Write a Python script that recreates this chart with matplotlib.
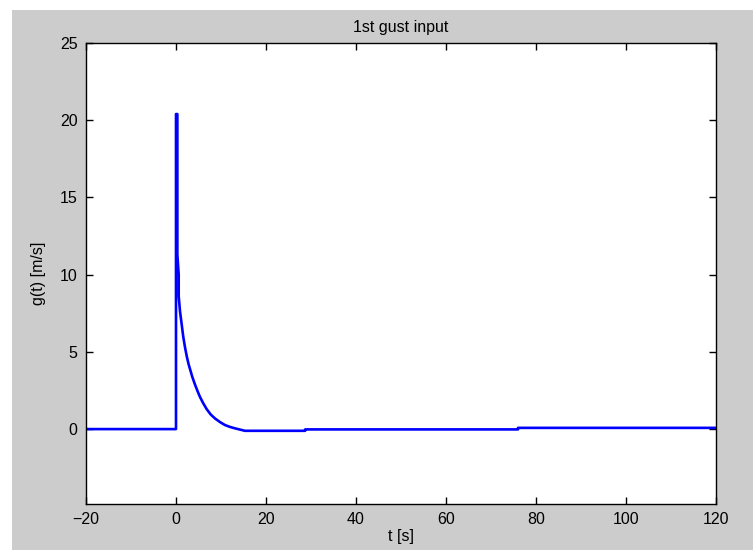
import numpy as np
import matplotlib.pyplot as plt
from matplotlib.patches import Rectangle

# gust signal (repeated t gives the vertical jumps)
t = [-20, 0, 0, 0.3, 0.3, 0.6, 0.6, 0.9, 1.3, 1.6, 2.0, 2.4, 2.8, 3.1, 3.6, 4.2,
     4.8, 5.3, 6.0, 6.8, 7.7, 8.7, 9.8, 10.9, 12.0, 13.1, 14.2, 15.3,
     28.7, 28.7, 76, 76, 120]
g = [0, 0, 20.4, 20.4, 11.3, 10.0, 8.6, 7.6, 6.7, 6.0, 5.3, 4.7, 4.2, 3.9, 3.4, 2.9,
     2.45, 2.1, 1.7, 1.3, 0.95, 0.68, 0.45, 0.26, 0.14, 0.05, -0.03, -0.11,
     -0.11, -0.02, -0.02, 0.08, 0.08]

xticks = [-20, 0, 20, 40, 60, 80, 100, 120]
yticks = [0, 5, 10, 15, 20, 25]

plt.rcParams['font.family'] = ['Liberation Sans', 'DejaVu Sans']

fig = plt.figure(figsize=(7.53, 5.50), dpi=100, facecolor='#cccccc')
# white margin strips at top and left of the screenshot
fig.patches.append(Rectangle((0, 0), 12 / 753, 1, transform=fig.transFigure,
                             facecolor='white', edgecolor='none', zorder=-1))
fig.patches.append(Rectangle((0, 1 - 10 / 550), 1, 10 / 550, transform=fig.transFigure,
                             facecolor='white', edgecolor='none', zorder=-1))

ax = fig.add_axes([86 / 753, 46 / 550, 630 / 753, 461 / 550])
ax.set_facecolor('white')
ax.plot(t, g, color='#0000ff', lw=1.9)

ax.set_xlim(-20, 120)
ax.set_ylim(-4.85, 25)
ax.set_xticks(xticks)
ax.set_yticks(yticks)
ax.tick_params(direction='in', length=5, width=1, top=True, right=True,
               labelsize=11.5, pad=6)
for s in ax.spines.values():
    s.set_linewidth(1)

ax.set_title('1st gust input', fontsize=11.5, pad=8)
ax.set_xlabel('t [s]', fontsize=11.5, labelpad=1)
ax.set_ylabel('g(t) [m/s]', fontsize=11.5, labelpad=10)

fig.savefig('out.png', dpi=100, facecolor=fig.get_facecolor())
